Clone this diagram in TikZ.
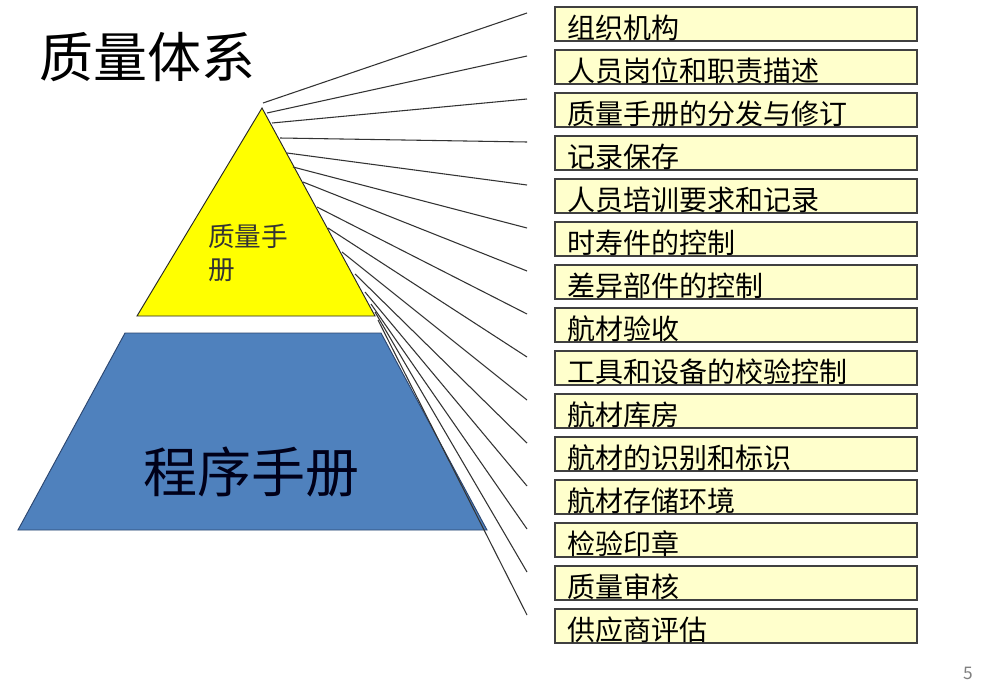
\documentclass[tikz,border=0pt]{standalone}
\usepackage{fontspec}
\setmainfont{Noto Sans CJK SC}
\usepackage{xcolor}
\definecolor{manyellow}{HTML}{FFFF00}
\definecolor{procblue}{HTML}{4F81BD}
\definecolor{procedge}{HTML}{2C4670}
\definecolor{itemfill}{HTML}{FFFFCC}
\tikzset{
  itembox/.style={draw=black!75,fill=itemfill,line width=0.9pt,
    minimum width=271.5pt,minimum height=25.5pt,text width=253.5pt,
    inner xsep=9pt,inner ysep=0pt,align=left,text height=21pt,text depth=0pt,
    font=\fontsize{21}{24}\selectfont},
  fanline/.style={black!80,line width=0.8pt}
}

\begin{document}
\begin{tikzpicture}[x=0.75pt,y=-0.75pt]
    \useasboundingbox (0,0) rectangle (987,696);
    \fill[white] (0,0) rectangle (987,696);
    \node[font=\fontsize{40.5}{44}\selectfont] (title) at (147,57) {质量体系};
    \draw[fill=procblue,draw=procedge,line width=0.7pt] (125,333) -- (381,333) -- (487,530) -- (18,530) -- cycle;
    \draw[fill=manyellow,draw=black!85,line width=0.7pt] (262,108) -- (375,316) -- (137,316) -- cycle;
    \node[align=left,text=black!80,font=\fontsize{20}{25}\selectfont] (qm) at (248,253) {质量手\\册};
    \node[text=black!90!blue,font=\fontsize{40.5}{44}\selectfont] (pm) at (251,472) {程序手册};
    \foreach \sx/\sy [count=\i] in {263/103,267/113,272/123,280/138,287/153,293/167,303/182,317/207,
        328/228,342/252,355/274,365/292,371/304,375/312,378/320} {
      \coordinate (s\i) at (\sx,\sy);
      \coordinate (e\i) at (527,{13+43*(\i-1)});
      \draw[fanline] (s\i) -- (e\i);
    }
    \foreach \txt [count=\i] in {组织机构,人员岗位和职责描述,质量手册的分发与修订,记录保存,人员培训要求和记录,
        时寿件的控制,差异部件的控制,航材验收,工具和设备的校验控制,航材库房,航材的识别和标识,
        航材存储环境,检验印章,质量审核,供应商评估} {
      \node[itembox] (item\i) at (736,{24+43*(\i-1)}) {\txt};
    }
    \node[text=black!50,font=\fontsize{13}{15}\selectfont] (page) at (968,673) {5};
  \end{tikzpicture}
\end{document}
